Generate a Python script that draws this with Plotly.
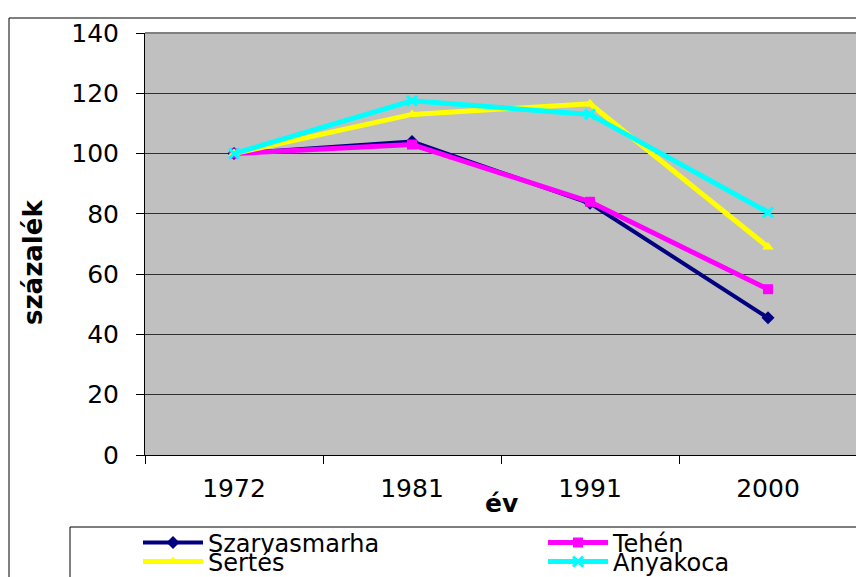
import plotly.graph_objects as go

years = ["1972", "1981", "1991", "2000"]
szarvasmarha = [100, 104, 83.5, 45.5]
tehen = [100, 103, 84, 55]
sertes = [100, 113, 116.5, 69]
anyakoca = [100, 117.5, 113, 80.5]

names = ["Szarvasmarha", "Tehén", "Sertés", "Anyakoca"]
colors = ["#000080", "#FF00FF", "#FFFF00", "#00FFFF"]
symbols = ["diamond", "square", "triangle-up", "x-thin-open"]
legends = ["legend", "legend", "legend2", "legend2"]
widths = [4, 5, 5, 5]
series = [szarvasmarha, tehen, sertes, anyakoca]

FONT = "DejaVu Sans"

fig = go.Figure()
for name, vals, c, s, lg, w in zip(names, series, colors, symbols, legends, widths):
    marker = dict(symbol=s, size=10, color=c, line=dict(color=c, width=3 if s == "x-thin-open" else 0))
    fig.add_trace(go.Scatter(
        x=years, y=vals, name=name, mode="lines+markers",
        line=dict(color=c, width=w), marker=marker, legend=lg,
    ))

# page has an 8px body margin: figure coords = page coords - 8
OFF = 8
W, H = 864 - OFF, 577 - OFF
L = 145 - OFF
T = 33 - OFF
B = H - (455 - OFF)
R = W - (857 - OFF)
pw = W - L - R
ph = H - T - B

def px_x(x):
    return (x - OFF - L) / pw

def px_y(y):
    return (H - B - (y - OFF)) / ph

legend_common = dict(
    orientation="h", xanchor="left", yanchor="middle",
    font=dict(family=FONT, size=24, color="black"),
    bgcolor="rgba(0,0,0,0)", borderwidth=0,
    entrywidth=330, entrywidthmode="pixels", itemwidth=60,
    tracegroupgap=0,
)

fig.update_layout(
    width=W, height=H,
    margin=dict(l=L, r=R, t=T, b=B, autoexpand=False),
    paper_bgcolor="white",
    plot_bgcolor="#C0C0C0",
    font=dict(family=FONT, size=25, color="black"),
    showlegend=True,
    legend=dict(x=px_x(138), y=px_y(543), **legend_common),
    legend2=dict(x=px_x(138), y=px_y(562), **legend_common),
    xaxis=dict(
        type="category", range=[-0.5, 3.5],
        showgrid=False, showline=True, linecolor="black", linewidth=1,
        ticks="outside", tickson="boundaries", ticklen=8, tickcolor="black",
        tickfont=dict(family=FONT, size=25, color="black"),
        ticklabelstandoff=11,
    ),
    yaxis=dict(
        range=[0, 140], tickvals=[0, 20, 40, 60, 80, 100, 120, 140],
        showgrid=True, gridcolor="#303030", gridwidth=1,
        showline=True, linecolor="black", linewidth=1,
        ticks="outside", ticklen=8, tickcolor="black",
        tickfont=dict(family=FONT, size=25, color="black"),
        ticklabelstandoff=12, zeroline=False,
    ),
    annotations=[
        dict(text="<b>százalék</b>", xref="paper", yref="paper",
             x=px_x(33), y=px_y(263), textangle=-90, showarrow=False,
             font=dict(family=FONT, size=26, color="black"),
             xanchor="center", yanchor="middle"),
        dict(text="<b>év</b>", xref="paper", yref="paper",
             x=px_x(501), y=px_y(503), showarrow=False,
             font=dict(family=FONT, size=25, color="black"),
             xanchor="center", yanchor="middle"),
    ],
    shapes=[
        dict(type="line", xref="paper", yref="paper", x0=0, x1=1, y0=1, y1=1,
             line=dict(color="#808080", width=2), layer="above"),
        dict(type="line", xref="paper", yref="paper", x0=1, x1=1, y0=0, y1=1,
             line=dict(color="#808080", width=2), layer="above"),
        dict(type="rect", xref="paper", yref="paper",
             x0=px_x(70), x1=px_x(880), y0=px_y(527), y1=px_y(600),
             line=dict(color="black", width=1)),
        dict(type="rect", xref="paper", yref="paper",
             x0=px_x(9), x1=px_x(880), y0=px_y(18), y1=px_y(600),
             line=dict(color="black", width=1)),
    ],
)

fig.write_html("out.html")
